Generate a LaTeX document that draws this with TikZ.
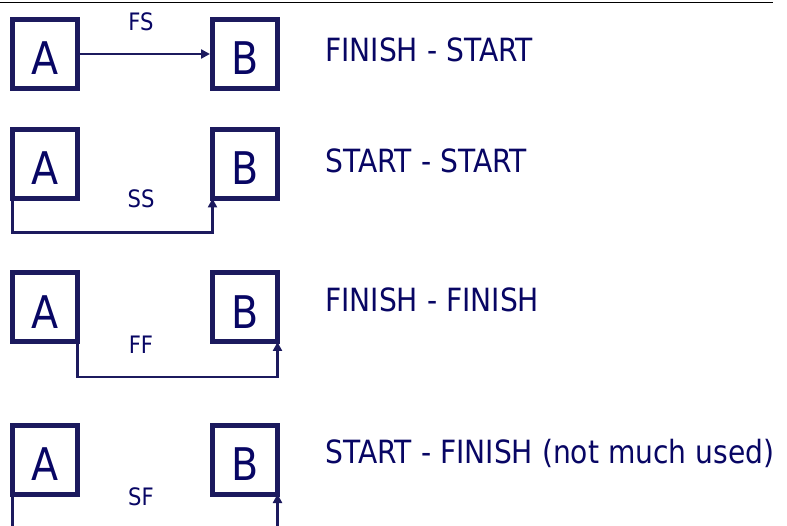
\documentclass[tikz,border=0pt]{standalone}
\usepackage{fontspec}
\setmainfont{DejaVu Sans}[FakeStretch=0.88]
\usepackage{tikz}
\usetikzlibrary{arrows.meta, positioning, calc}
\usepackage{xcolor}
\definecolor{boxblue}{RGB}{28,26,94}
\definecolor{textblue}{RGB}{8,6,100}

\begin{document}
\begin{tikzpicture}[x=1pt, y=-1pt,
    box/.style={rectangle, draw=boxblue, line width=5pt, fill=white, minimum width=65pt, minimum height=69pt, inner sep=0pt, outer sep=0pt, text height=42pt, text depth=0pt, text=textblue, font=\fontsize{45}{50}\selectfont},
    lbl/.style={text=textblue, inner sep=0pt, font=\fontsize{24}{28}\selectfont},
    desc/.style={anchor=base west, text=textblue, inner sep=0pt, font=\fontsize{32}{36}\selectfont},
    link/.style={draw=boxblue, line width=2.5pt},
    arrow/.style={link, -{Triangle[width=9pt, length=9pt]}, shorten >=2.5pt}]
\useasboundingbox (0,0) rectangle (787,526);
\draw [black, line width=1pt] (0,3) -- (773,3);
\coordinate (base) at (0,526);
% finish - start
\node (a1) [box] at (45,54) {A};
\node (b1) [box] at (245,54) {B};
\node (fs) [lbl] at (141,22) {FS};
\node (d1) [desc] at (325,62) {FINISH - START};
\draw [arrow] (a1) -- (b1);
% start - start
\node (a2) [box] at (45,164) {A};
\node (b2) [box] at (245,164) {B};
\node (ss) [lbl] at (141,199) {SS};
\node (d2) [desc] at (325,173) {START - START};
\draw [arrow, shorten >=0pt] (a2.south west) -- ++(0,34) -| (b2.south west);
% finish - finish
\node (a3) [box] at (45,307.5) {A};
\node (b3) [box] at (245,307.5) {B};
\node (ff) [lbl] at (141,345) {FF};
\node (d3) [desc] at (325,312) {FINISH - FINISH};
\draw [arrow, shorten >=0pt] (a3.south east) -- ++(0,35) -| (b3.south east);
% start - finish
\node (a4) [box] at (45,459.5) {A};
\node (b4) [box] at (245,459.5) {B};
\node (sf) [lbl] at (141,497) {SF};
\node (d4) [desc] at (325,463) {START - FINISH (not much used)};
\draw [link] (a4.south west) -- (a4.south west |- base);
\draw [arrow, shorten >=0pt] (b4.south east |- base) -- (b4.south east);
\end{tikzpicture}
\end{document}
